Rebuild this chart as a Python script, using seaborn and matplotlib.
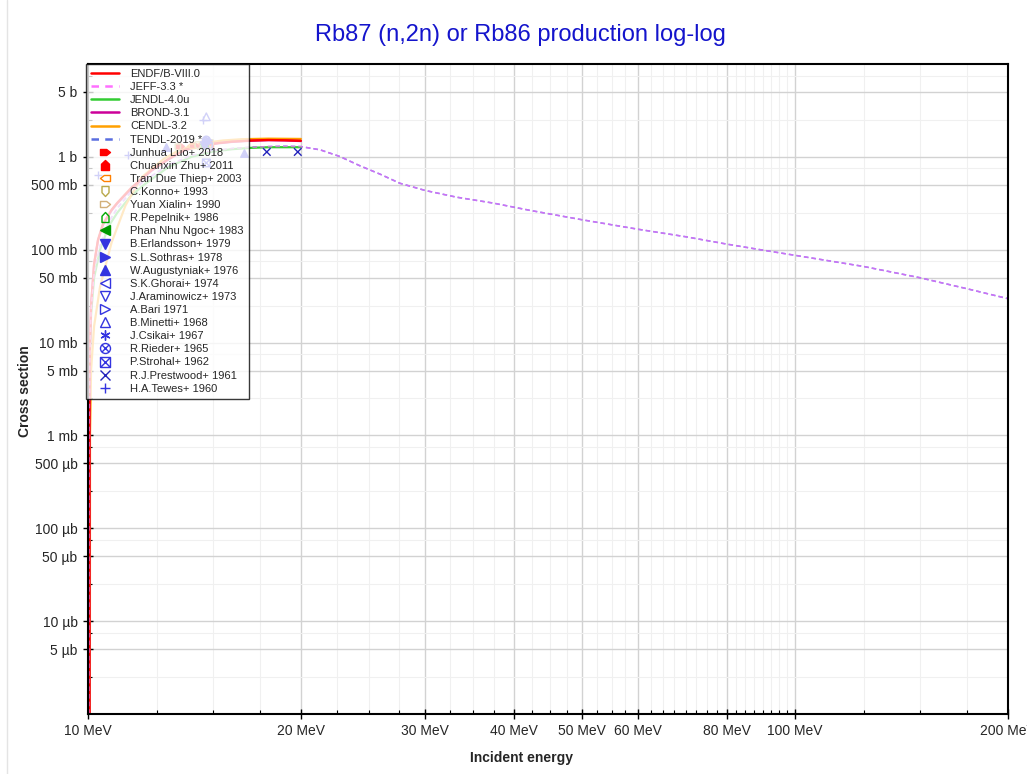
import numpy as np
import pandas as pd
import matplotlib
matplotlib.use("Agg")
import matplotlib.pyplot as plt
import seaborn as sns
from matplotlib.path import Path
from matplotlib.lines import Line2D
from matplotlib.ticker import FixedLocator, FuncFormatter, NullFormatter

sns.set_theme(style="white")
plt.rcParams['font.family'] = ['Liberation Sans', 'DejaVu Sans']

# ---------------- evaluated data (energy in MeV, cross section in barn) ----------------
endf_e = [10.045, 10.046, 10.06, 10.1, 10.2, 10.33, 10.5, 10.8, 11.0, 11.5, 12.3, 13.0,
          13.7, 14.5, 15.3, 16.0, 17.0, 18.0, 19.0, 20.0]
endf_xs = [1e-7, 1.5e-3, 8e-3, 0.025, 0.07, 0.128, 0.19, 0.27, 0.32, 0.46, 0.72, 0.95,
           1.19, 1.33, 1.41, 1.46, 1.50, 1.52, 1.51, 1.49]

jeff_e = [10.03, 10.035, 10.06, 10.1, 10.2, 10.4, 10.7, 11.0, 11.5, 12.0, 13.0, 14.0, 15.0,
          16.0, 17.0, 18.0, 19.0, 20.0, 21.3, 22.7, 24.2, 25.9, 27.6, 30.0, 33.2, 37.4, 42.2,
          50.0, 60.0, 70.0, 80.0, 90.0, 100.0, 125.0, 150.0, 175.0, 200.0]
jeff_xs = [1e-7, 1e-3, 7e-3, 0.022, 0.055, 0.11, 0.2, 0.28, 0.42, 0.55, 0.82, 1.03, 1.16,
           1.23, 1.27, 1.29, 1.30, 1.29, 1.19, 1.01, 0.806, 0.65, 0.52, 0.434, 0.368, 0.318,
           0.265, 0.21, 0.166, 0.138, 0.115, 0.099, 0.087, 0.066, 0.05, 0.038, 0.0297]

jendl_e = [10.02, 10.025, 10.05, 10.1, 10.2, 10.4, 10.7, 11.0, 11.5, 12.0, 13.0, 14.0, 15.0,
           16.0, 17.0, 18.0, 19.0, 20.0]
jendl_xs = [1e-7, 1e-3, 6e-3, 0.02, 0.05, 0.1, 0.18, 0.25, 0.38, 0.5, 0.78, 1.0, 1.14,
            1.21, 1.25, 1.27, 1.27, 1.27]

brond_e = [10.045, 10.046, 10.06, 10.1, 10.2, 10.33, 10.5, 10.8, 11.0, 11.5, 12.3, 13.0,
           13.7, 14.5, 15.3, 16.0, 17.0, 18.0, 19.0, 20.0]
brond_xs = [1e-7, 1.5e-3, 8e-3, 0.025, 0.07, 0.125, 0.185, 0.265, 0.315, 0.45, 0.71, 0.94,
            1.18, 1.32, 1.40, 1.45, 1.49, 1.51, 1.50, 1.48]

cendl_e = [10.06, 10.065, 10.1, 10.2, 10.4, 10.8, 11.3, 11.9, 12.8, 13.5, 14.5, 15.5, 16.5,
           18.0, 20.0]
cendl_xs = [1e-7, 1e-3, 5e-3, 0.015, 0.04, 0.12, 0.3, 0.6, 0.95, 1.2, 1.4, 1.5, 1.55,
            1.57, 1.56]

tendl_e = jeff_e
tendl_xs = jeff_xs

# ---------------- experimental data ----------------
exp_labels = ["Junhua Luo+ 2018", "Chuanxin Zhu+ 2011", "Tran Due Thiep+ 2003",
              "C.Konno+ 1993", "Yuan Xialin+ 1990", "R.Pepelnik+ 1986",
              "Phan Nhu Ngoc+ 1983", "B.Erlandsson+ 1979", "S.L.Sothras+ 1978",
              "W.Augustyniak+ 1976", "S.K.Ghorai+ 1974", "J.Araminowicz+ 1973",
              "A.Bari 1971", "B.Minetti+ 1968", "J.Csikai+ 1967", "R.Rieder+ 1965",
              "P.Strohal+ 1962", "R.J.Prestwood+ 1961", "H.A.Tewes+ 1960"]
exp_energy = [[13.5, 14.1, 14.8], [14.5, 14.9], [14.0], [13.4, 14.3, 14.9], [14.6],
              [14.6], [14.6], [14.7], [14.7], [12.9, 16.6], [14.8], [14.6], [14.8],
              [14.7], [14.7], [14.7], [14.7], [17.9, 19.8], [10.33, 11.4, 14.55]]
exp_xs = [[1.30, 1.35, 1.40], [1.36, 1.40], [1.30], [1.25, 1.32, 1.39], [1.38],
          [1.35], [1.36], [1.40], [1.45], [1.28, 1.09], [1.30], [1.32], [1.50],
          [2.70], [1.48], [1.52], [0.86], [1.13, 1.13], [0.64, 1.04, 2.50]]

# ---------------- marker shapes ----------------
def house(rot, w=1.0):
    base = np.array([(-w, -1), (w, -1), (w, 0.25), (0, 1), (-w, 0.25), (-w, -1)])
    th = np.deg2rad(rot)
    R = np.array([[np.cos(th), -np.sin(th)], [np.sin(th), np.cos(th)]])
    return Path(base @ R.T, closed=True)

M, L = Path.MOVETO, Path.LINETO
circ_x = Path.make_compound_path(
    Path.unit_circle(),
    Path([(-0.7, -0.7), (0.7, 0.7)], [M, L]),
    Path([(-0.7, 0.7), (0.7, -0.7)], [M, L]))
sq_x = Path.make_compound_path(
    Path([(-1, -1), (1, -1), (1, 1), (-1, 1), (-1, -1)], [M, L, L, L, L]),
    Path([(-1, -1), (1, 1)], [M, L]),
    Path([(-1, 1), (1, -1)], [M, L]))

blue = '#3434e0'
exp_styles = [
    (house(-90, 0.6), '#ff0000', True),
    (house(0, 0.8), '#ff0000', True),
    (house(90, 0.6), '#ff8000', False),
    (house(180, 0.7), '#b8a84a', False),
    (house(-90, 0.6), '#d2b07a', False),
    (house(0, 0.7), '#00aa00', False),
    ('<', '#009900', True),
    ('v', blue, True),
    ('>', blue, True),
    ('^', blue, True),
    ('<', blue, False),
    ('v', blue, False),
    ('>', blue, False),
    ('^', blue, False),
    ((6, 2, 0), blue, False),
    (circ_x, blue, False),
    (sq_x, blue, False),
    ('x', '#2222bb', False),
    ('+', blue, False),
]

# ---------------- figure ----------------
W, H = 1027, 774
fig = plt.figure(figsize=(W / 100, H / 100), dpi=100)
ax = fig.add_axes([88 / W, 1 - 714 / H, 920 / W, 650 / H])

curves = [
    ("ENDF/B-VIII.0", endf_e, endf_xs, '#ff0000', '-', 1.6, 1.0),
    ("JEFF-3.3 *", jeff_e, jeff_xs, '#ff70ff', (0, (3, 2)), 1.1, 0.7),
    ("JENDL-4.0u", jendl_e, jendl_xs, '#33cc33', '-', 1.6, 1.0),
    ("BROND-3.1", brond_e, brond_xs, '#cc0099', '-', 1.6, 1.0),
    ("CENDL-3.2", cendl_e, cendl_xs, '#ffa000', '-', 1.6, 1.0),
    ("TENDL-2019 *", tendl_e, tendl_xs, '#5a6ee0', (0, (3, 2)), 1.1, 1.0),
]
draw_order = [5, 2, 4, 3, 0, 1]
for i in draw_order:
    name, e, xs, c, ls, lw, a = curves[i]
    df = pd.DataFrame({"E": e, "xs": xs})
    sns.lineplot(data=df, x="E", y="xs", ax=ax, color=c, linestyle=ls, linewidth=lw,
                 alpha=a, estimator=None, sort=False, legend=False)

for lab, e, xs, (mk, c, filled) in zip(exp_labels, exp_energy, exp_xs, exp_styles):
    df = pd.DataFrame({"E": e, "xs": xs})
    sns.scatterplot(data=df, x="E", y="xs", ax=ax, marker=mk, s=30, color=c,
                    linewidth=1.0, legend=False, zorder=5)
    coll = ax.collections[-1]
    if filled:
        coll.set_facecolor(c)
        coll.set_edgecolor(c)
    else:
        coll.set_facecolor('none')
        coll.set_edgecolor(c)

ax.set_xscale('log')
ax.set_yscale('log')
ax.set_xlim(10, 200)
ax.set_ylim(1e-6, 10)

xmaj = [10, 20, 30, 40, 50, 60, 80, 100, 200]
xmin = [v for v in np.arange(12.5, 100, 2.5) if v not in xmaj] + [125, 150, 175]
ax.xaxis.set_major_locator(FixedLocator(xmaj))
ax.xaxis.set_minor_locator(FixedLocator(xmin))
ax.xaxis.set_major_formatter(FuncFormatter(lambda v, p: f"{v:g} MeV"))
ax.xaxis.set_minor_formatter(NullFormatter())

ymaj = [d * m for d in [1e-6, 1e-5, 1e-4, 1e-3, 1e-2, 1e-1, 1] for m in (1, 5)]
ymaj = [v for v in ymaj if 4e-6 < v < 9]
ymin = [d * m for d in [1e-6, 1e-5, 1e-4, 1e-3, 1e-2, 1e-1, 1] for m in (2.5, 7.5)]
ax.yaxis.set_major_locator(FixedLocator(ymaj))
ax.yaxis.set_minor_locator(FixedLocator(ymin))

def yfmt(v, p):
    if v >= 0.999:
        return f"{v:g} b"
    if v >= 0.999e-3:
        return f"{v * 1e3:g} mb"
    return f"{v * 1e6:g} µb"

ax.yaxis.set_major_formatter(FuncFormatter(yfmt))
ax.yaxis.set_minor_formatter(NullFormatter())

ax.grid(True, which='major', color='#d2d2d2', linewidth=1.0)
ax.grid(True, which='minor', color='#f0f0f0', linewidth=0.8)
ax.set_axisbelow(True)
for s in ax.spines.values():
    s.set_color('black')
    s.set_linewidth(1.5)
ax.tick_params(which='major', direction='inout', length=7, width=1, color='black',
               labelsize=10, pad=4, left=True, bottom=True)
ax.tick_params(which='minor', direction='in', length=3, width=0.8, color='black',
               left=True, bottom=True)
ax.set_xlabel("")
ax.set_ylabel("")

# legend
handles = []
for name, e, xs, c, ls, lw, a in curves:
    handles.append(Line2D([], [], color=c, linestyle=ls if ls == '-' else (0, (3, 2.5)),
                          linewidth=1.8, label=name))
for lab, (mk, c, filled) in zip(exp_labels, exp_styles):
    handles.append(Line2D([], [], linestyle='none', marker=mk, markersize=7.2,
                          markerfacecolor=c if filled else 'none', markeredgecolor=c,
                          markeredgewidth=1.0, label=lab))
leg = ax.legend(handles=handles, loc='upper left', bbox_to_anchor=(-0.002, 1.0),
                borderaxespad=0, fontsize=8, frameon=True, fancybox=False,
                framealpha=0.78, edgecolor='black', handlelength=2.5,
                handletextpad=1.0, labelspacing=0.28, borderpad=0.45)
leg.get_frame().set_linewidth(1.0)
leg.set_zorder(10)

# titles
fig.text(520 / W, 1 - 35 / H, "Rb87 (n,2n) or Rb86 production log-log",
         ha='center', va='center', fontsize=17, color='#1414cc')
fig.text(521 / W, 1 - 758 / H, "Incident energy", ha='center', va='center',
         fontsize=10, fontweight='bold')
fig.text(25 / W, 1 - 391 / H, "Cross section", ha='center', va='center',
         fontsize=10, fontweight='bold', rotation=90)

fig.add_artist(Line2D([7 / W, 7 / W], [0, 1], transform=fig.transFigure,
                      color='#e4e4e4', linewidth=1.0))

fig.savefig("out.png", dpi=100)
